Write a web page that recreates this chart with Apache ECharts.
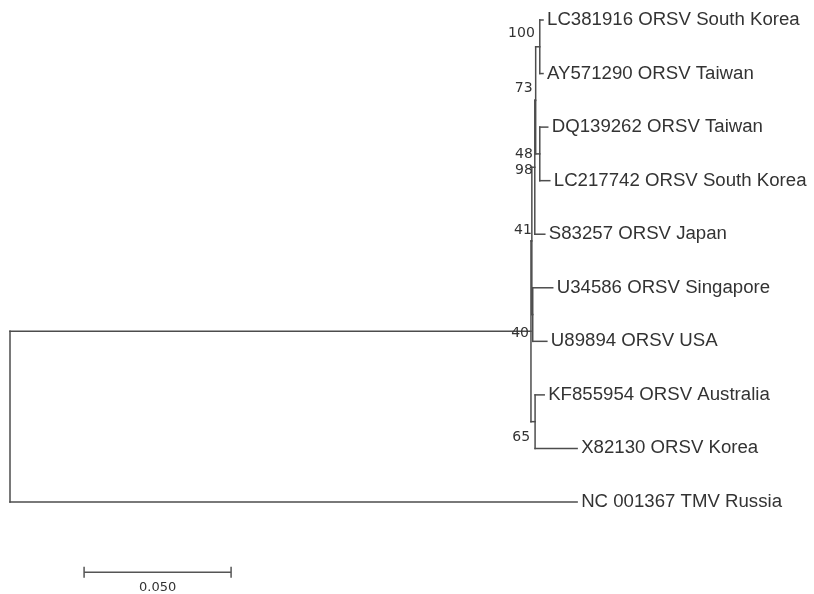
<!DOCTYPE html>
<html><head><meta charset="utf-8">
<script src="https://cdn.jsdelivr.net/npm/echarts@6/dist/echarts.min.js"></script>
<style>html,body{margin:0;padding:0;background:#fff}#c{width:814px;height:594px}</style>
</head><body><div id="c"></div>
<script>
// ---- data ----
const taxa = [
  'LC381916 ORSV South Korea',
  'AY571290 ORSV Taiwan',
  'DQ139262 ORSV Taiwan',
  'LC217742 ORSV South Korea',
  'S83257 ORSV Japan',
  'U34586 ORSV Singapore',
  'U89894 ORSV USA',
  'KF855954 ORSV Australia',
  'X82130 ORSV Korea',
  'NC 001367 TMV Russia'
];
const leafBranch = [0.0011, 0.0011, 0.0027, 0.0034, 0.0034, 0.0068, 0.0048, 0.0031, 0.0143, 0.1929];
const internalIds    = ['root', 'n40', 'n41', 'n48', 'n73', 'n100', 'n98', 'nD', 'n65'];
const internalKids   = [['n40', 9], ['n41', 'n65'], ['n48', 'nD'], ['n73', 4], ['n100', 'n98'], [0, 1], [2, 3], [5, 6], [7, 8]];
const internalBranch = [0, 0.1772, 0.0003, 0.0010, 0.0003, 0.0014, 0.0014, 0.0003, 0.0014];
const bootstrap      = [null, 40, 41, 48, 73, 100, 98, null, 65];
const scaleBarLength = 0.05;
const scaleBarLabel = '0.050';

// ---- style / layout (pixels) ----
const bootOffset = {n100: [-5, -13], n73: [-3, -12], n48: [-2, -13], n98: [-7, 16], n41: [0, -11], n40: [-2, 2], n65: [-5, 16]};
const scaleBarAt = [0.0252, 10.31];
const lineColor = '#4d4d4d';

// ---- layout the tree ----
const nodeX = {}, nodeY = {};
const keyOf = k => (typeof k === 'number' ? 't' + k : k);
function layout(id, x0) {
  if (typeof id === 'number') {
    nodeX['t' + id] = x0 + leafBranch[id];
    nodeY['t' + id] = id;
    return;
  }
  const i = internalIds.indexOf(id);
  const x = x0 + internalBranch[i];
  nodeX[id] = x;
  const ys = internalKids[i].map(k => { layout(k, x); return nodeY[keyOf(k)]; });
  nodeY[id] = (Math.min(...ys) + Math.max(...ys)) / 2;
}
layout('root', 0);

const segs = [];
internalIds.forEach((id, i) => {
  const kids = internalKids[i].map(keyOf);
  const ys = kids.map(k => nodeY[k]);
  segs.push([nodeX[id], Math.min(...ys), nodeX[id], Math.max(...ys)]);
  kids.forEach(k => segs.push([nodeX[id], nodeY[k], nodeX[k], nodeY[k]]));
});
const leafLabels = taxa.map((t, i) => [nodeX['t' + i], i, t]);
const bootLabels = [];
internalIds.forEach((id, i) => { if (bootstrap[i] != null) bootLabels.push([nodeX[id], nodeY[id], bootstrap[i], id]); });

const chart = echarts.init(document.getElementById('c'), null, {renderer: 'canvas'});
chart.setOption({
  backgroundColor: '#fff',
  animation: false,
  grid: {left: 10, top: 20, width: 588, height: 482},
  xAxis: {type: 'value', min: 0, max: 0.2, show: false},
  yAxis: {type: 'value', min: 0, max: 9, inverse: true, show: false},
  series: [
    {
      type: 'custom', data: segs, clip: false, encode: {x: [0, 2], y: [1, 3]},
      renderItem: (p, api) => {
        const a = api.coord([api.value(0), api.value(1)]);
        const b = api.coord([api.value(2), api.value(3)]);
        return {type: 'line', shape: {x1: a[0], y1: a[1], x2: b[0], y2: b[1]},
                style: {stroke: lineColor, lineWidth: 1.5, lineCap: 'square'}};
      }
    },
    {
      type: 'custom', data: leafLabels, clip: false, encode: {x: 0, y: 1},
      renderItem: (p, api) => {
        const a = api.coord([api.value(0), api.value(1)]);
        return {type: 'text', x: a[0] + 4, y: a[1], scaleX: 1.035,
                style: {text: leafLabels[p.dataIndex][2], font: '18px "Liberation Sans", Arial, sans-serif',
                        fill: '#333', align: 'left', verticalAlign: 'middle'}};
      }
    },
    {
      type: 'custom', data: bootLabels, clip: false, encode: {x: 0, y: 1},
      renderItem: (p, api) => {
        const a = api.coord([api.value(0), api.value(1)]);
        const off = bootOffset[bootLabels[p.dataIndex][3]] || [-3, -12];
        return {type: 'text', x: a[0] + off[0], y: a[1] + off[1],
                style: {text: String(bootLabels[p.dataIndex][2]), font: '14px "DejaVu Sans", Verdana, sans-serif',
                        fill: '#333', align: 'right', verticalAlign: 'middle'}};
      }
    },
    {
      type: 'custom', data: [[scaleBarAt[0], scaleBarAt[1], scaleBarLength]], clip: false, encode: {x: 0, y: 1},
      renderItem: (p, api) => {
        const a = api.coord([api.value(0), api.value(1)]);
        const b = api.coord([api.value(0) + api.value(2), api.value(1)]);
        const st = {stroke: '#555', lineWidth: 1.5};
        return {type: 'group', children: [
          {type: 'line', shape: {x1: a[0], y1: a[1], x2: b[0], y2: b[1]}, style: st},
          {type: 'line', shape: {x1: a[0], y1: a[1] - 5.5, x2: a[0], y2: a[1] + 5.5}, style: st},
          {type: 'line', shape: {x1: b[0], y1: b[1] - 5.5, x2: b[0], y2: b[1] + 5.5}, style: st},
          {type: 'text', x: (a[0] + b[0]) / 2, y: a[1] + 15,
           style: {text: scaleBarLabel, font: '13px "DejaVu Sans", Verdana, sans-serif', fill: '#333',
                   align: 'center', verticalAlign: 'middle'}}
        ]};
      }
    }
  ]
});
</script></body></html>
